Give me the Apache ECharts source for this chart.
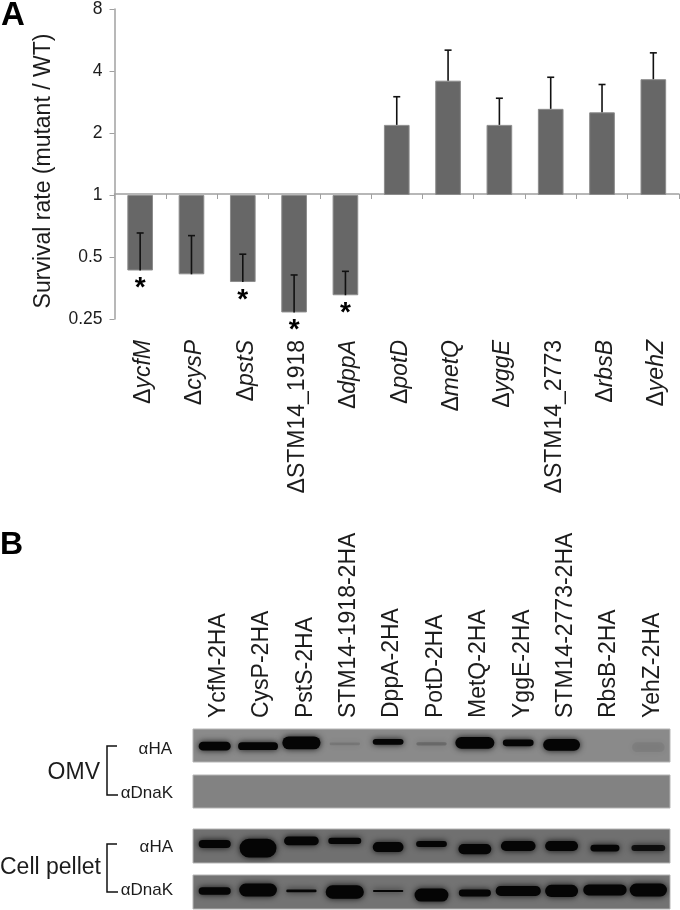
<!DOCTYPE html>
<html><head><meta charset="utf-8">
<style>html,body{margin:0;padding:0;background:#fff}#c{width:680px;height:910px}</style>
<script src="https://cdn.jsdelivr.net/npm/echarts@6/dist/echarts.min.js"></script>
</head><body><div id="c"></div>
<script>
// Panel A data
const mutants = ['ycfM','cysP','pstS','STM14_1918','dppA','potD','metQ','yggE','STM14_2773','rbsB','yehZ'];
const survival = [0.43,0.412,0.378,0.269,0.326,2.19,3.59,2.19,2.62,2.52,3.65];
const errorEnd = [0.654,0.635,0.516,0.409,0.426,3.0,5.05,2.95,3.73,3.44,4.9];
const significant = [1,0,1,1,1,0,0,0,0,0,0];
// Panel B data
const lanes = ['YcfM-2HA','CysP-2HA','PstS-2HA','STM14-1918-2HA','DppA-2HA','PotD-2HA','MetQ-2HA','YggE-2HA','STM14-2773-2HA','RbsB-2HA','YehZ-2HA'];
const omvHaDark   = [1,1,1,0.12,1,0.2,1,1,1,0,0.06];
const omvHaCenter = [0.52,0.52,0.42,0.45,0.39,0.45,0.42,0.42,0.48,0.5,0.55];
const omvHaThick  = [0.27,0.24,0.39,0.08,0.18,0.1,0.36,0.2,0.36,0,0.3];
const omvHaWidth  = [0.74,0.92,0.88,0.7,0.71,0.7,0.9,0.71,0.85,0,0.75];
const omvDnakDark = [0,0,0,0,0,0,0,0,0,0,0];
const cellHaDark   = [1,1,1,1,1,1,1,1,1,1,0.85];
const cellHaCenter = [0.44,0.56,0.35,0.35,0.53,0.44,0.59,0.5,0.5,0.56,0.56];
const cellHaThick  = [0.24,0.55,0.26,0.18,0.3,0.18,0.3,0.3,0.3,0.2,0.18];
const cellHaWidth  = [0.74,0.85,0.8,0.76,0.71,0.71,0.76,0.8,0.76,0.67,0.78];
const cellDnakDark   = [1,1,1,1,1,1,1,1,1,1,1];
const cellDnakCenter = [0.47,0.44,0.47,0.5,0.47,0.59,0.53,0.47,0.47,0.44,0.44];
const cellDnakThick  = [0.22,0.38,0.08,0.4,0.06,0.38,0.2,0.3,0.36,0.32,0.38];
const cellDnakWidth  = [0.74,0.87,0.7,0.88,0.7,0.78,0.74,1.04,0.76,1,0.86];

const FONT = '"Liberation Sans", Arial, sans-serif';
const INK = '#1c1c1c';
const chart = echarts.init(document.getElementById('c'), null, {renderer:'canvas'});

function blotGrid(top, height, bg){
  return {left:193, width:477, top:top, height:height, show:true, backgroundColor:bg, borderColor:'#b5b5b5', borderWidth:1};
}
function hiddenX(i){ return {type:'category', gridIndex:i, data:lanes, show:false, boundaryGap:true}; }
function hiddenY(i){ return {type:'value', gridIndex:i, min:0, max:1, inverse:true, show:false}; }
function bandSeries(i, dark, center, thick, width){
  return {
    type:'custom', xAxisIndex:i, yAxisIndex:i, silent:true, clip:true,
    data: lanes.map((_,k)=>[k, center?center[k]:0.5, thick?thick[k]:0, width?width[k]:0, dark[k]]),
    encode:{x:0,y:1},
    renderItem(params, api){
      if(!api.value(4) || !api.value(2)) return {type:'group', children:[]};
      const p = api.coord([api.value(0), api.value(1)]);
      const laneW = api.size([1,0])[0];
      const h = Math.max(api.size([0,api.value(2)])[1], 2);
      const w = laneW*api.value(3);
      return {type:'rect',
        shape:{x:p[0]-w/2, y:p[1]-h/2, width:w, height:h, r:h/2},
        style:{fill:'#050505', opacity:api.value(4), shadowBlur:6, shadowColor:'rgba(0,0,0,0.85)'}};
    }
  };
}

const bracket = (top,bottom)=>({type:'polyline', silent:true,
  shape:{points:[[117,top],[107,top],[107,bottom],[118,bottom]]},
  style:{stroke:'#111', lineWidth:1.5, fill:'none'}});
const txt = (x,y,text,size,extra)=>({type:'text', x, y, silent:true,
  style:Object.assign({text, fill:INK, font:`${size}px ${FONT}`, textVerticalAlign:'middle', textAlign:'right'}, extra||{})});

chart.setOption({
  animation:false, backgroundColor:'#fff',
  textStyle:{fontFamily:FONT},
  grid:[
    {left:114.5, top:6.5, width:564.5, height:312.5},
    blotGrid(729,33,'#8a8a8a'),
    blotGrid(775,33,'#828282'),
    blotGrid(829,34,'#707070'),
    blotGrid(875,34,'#737373')
  ],
  xAxis:[
    {type:'category', gridIndex:0, data:mutants, position:'bottom', offset:-125,
     axisLine:{onZero:false, lineStyle:{color:'#a0a0a0', width:1.5}},
     axisTick:{show:true, length:5, alignWithLabel:false, lineStyle:{color:'#a0a0a0', width:1}},
     axisLabel:{show:true, interval:0, rotate:90, margin:146, color:INK, padding:[7,0,0,0],
       formatter(v){ return v.startsWith('STM14') ? `{r|Δ${v}}` : `{r|Δ}{i|${v}}`; },
       rich:{ r:{fontSize:23, fontFamily:FONT, color:INK}, i:{fontSize:23, fontFamily:FONT, fontStyle:'italic', color:INK} } }},
    {type:'category', gridIndex:1, data:lanes, position:'top',
     axisLine:{show:false}, axisTick:{show:false},
     axisLabel:{show:true, interval:0, rotate:90, margin:11, color:INK, padding:[8,0,0,0],
       formatter(v){ return `{t|${v}}`; },
       rich:{ t:{fontSize:23, fontFamily:FONT, color:INK} } }},
    hiddenX(2),hiddenX(3),hiddenX(4)
  ],
  yAxis:[
    {type:'log', logBase:2, gridIndex:0, min:0.25, max:8,
     axisLine:{show:true, lineStyle:{color:'#a0a0a0', width:1.5}},
     axisTick:{show:true, length:5, lineStyle:{color:'#a0a0a0', width:1}},
     splitLine:{show:false}, minorTick:{show:false}, minorSplitLine:{show:false},
     axisLabel:{fontSize:17.5, fontFamily:FONT, color:INK, margin:12},
     name:'Survival rate (mutant / WT)', nameLocation:'middle', nameRotate:90, nameGap:59,
     nameTextStyle:{fontSize:23, fontFamily:FONT, color:INK, padding:[0,14,0,0]}},
    hiddenY(1),hiddenY(2),hiddenY(3),hiddenY(4)
  ],
  series:[
    {type:'bar', name:'Survival rate', xAxisIndex:0, yAxisIndex:0, data:survival, barWidth:'50%',
     itemStyle:{color:'#676767', borderColor:'#8c8c8c', borderWidth:1}},
    {type:'custom', name:'Error', xAxisIndex:0, yAxisIndex:0, z:5, silent:true,
     data: mutants.map((_,k)=>[k, survival[k], errorEnd[k], significant[k]]),
     encode:{x:0,y:[1,2]},
     renderItem(params, api){
       const a = api.coord([api.value(0), api.value(1)]);
       const b = api.coord([api.value(0), api.value(2)]);
       const s = {stroke:'#111', lineWidth:1.6};
       const kids = [
         {type:'line', shape:{x1:a[0],y1:a[1],x2:b[0],y2:b[1]}, style:s},
         {type:'line', shape:{x1:b[0]-3.5,y1:b[1],x2:b[0]+3.5,y2:b[1]}, style:s}
       ];
       if(api.value(3)) kids.push({type:'text', x:a[0], y:a[1]+18,
         style:{text:'*', fill:'#000', font:`bold 28px ${FONT}`, textAlign:'center', textVerticalAlign:'middle'}});
       return {type:'group', children:kids};
     }},
    bandSeries(1, omvHaDark, omvHaCenter, omvHaThick, omvHaWidth),
    bandSeries(2, omvDnakDark),
    bandSeries(3, cellHaDark, cellHaCenter, cellHaThick, cellHaWidth),
    bandSeries(4, cellDnakDark, cellDnakCenter, cellDnakThick, cellDnakWidth)
  ],
  graphic:[
    txt(1,16,'A',33,{font:`bold 33px ${FONT}`, fill:'#000', textAlign:'left'}),
    txt(0,545,'B',32,{font:`bold 32px ${FONT}`, fill:'#000', textAlign:'left'}),
    txt(172,749,'αHA',17),
    txt(173,793,'αDnaK',17),
    txt(173,847,'αHA',17),
    txt(173,890,'αDnaK',17),
    txt(100,773,'OMV',23),
    txt(101,868,'Cell pellet',23),
    bracket(746,795),
    bracket(844,892)
  ]
});
</script></body></html>
